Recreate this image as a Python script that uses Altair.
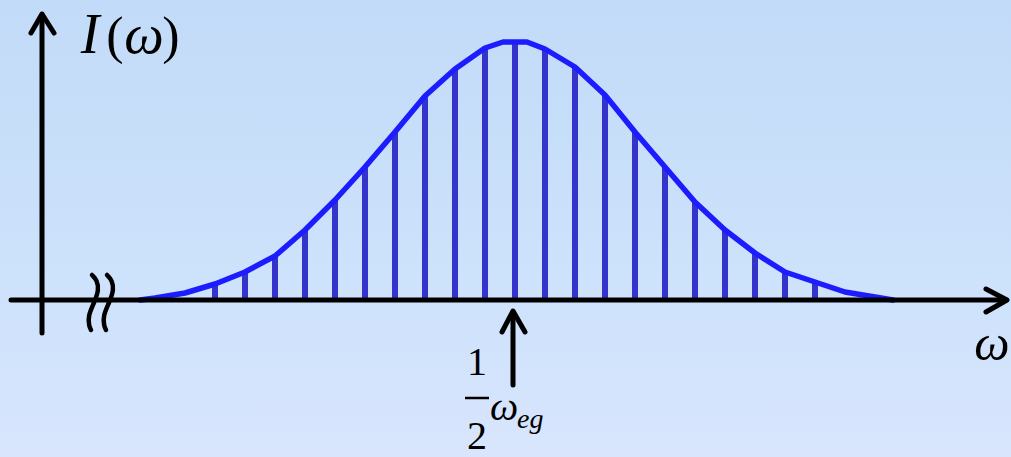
import altair as alt
import pandas as pd

W, H = 1011, 457

# Discrete lines under the envelope: position in units of the line spacing
# (0 = omega_eg / 2) and height of each line.
stem_k = list(range(-10, 11))
stem_h = [16, 28, 44, 70, 100, 133, 168, 204, 231, 252, 258,
          251, 233, 205, 168, 133, 98, 70, 47, 28, 18]

# Smooth envelope I(omega)
curve_k = [-12.5, -12, -11, -10, -9, -8, -7, -6, -5, -4, -3, -2, -1, -0.4,
           0.4, 1, 2, 3, 4, 5, 6, 7, 8, 9, 10, 11, 12, 12.6]
curve_h = [0, 2, 7, 16, 28, 44, 70, 100, 133, 168, 204, 231, 252, 258,
           258, 251, 233, 205, 168, 133, 98, 70, 47, 28, 18, 8, 3, 0]

# Scales: one unit of k is one line spacing, h is the intensity
xs = alt.Scale(domain=[-17.1667, 16.5333], nice=False, zero=False)
ys = alt.Scale(domain=[-157, 300], nice=False, zero=False)

STEM = "#3434cc"
CURVE = "#1c1cff"
INK = "#000000"
SERIF = "Liberation Serif, DejaVu Serif, serif"

bg = alt.Chart(pd.DataFrame({"a": [0]})).mark_rect(
    color=alt.Gradient(
        gradient="linear",
        stops=[alt.GradientStop(color="#c2dbf8", offset=0),
               alt.GradientStop(color="#cde2fb", offset=0.6),
               alt.GradientStop(color="#d8e5fd", offset=1)],
        x1=0, x2=0, y1=0, y2=1,
    )
).encode(x=alt.value(0), x2=alt.value(W), y=alt.value(0), y2=alt.value(H))

stems_df = pd.DataFrame({"k": stem_k, "h": stem_h, "h0": [0] * len(stem_k)})
stems = alt.Chart(stems_df).mark_rule(color=STEM, strokeWidth=6).encode(
    x=alt.X("k:Q", scale=xs, axis=None),
    y=alt.Y("h0:Q", scale=ys, axis=None),
    y2="h:Q",
)

curve_df = pd.DataFrame({"k": curve_k, "h": curve_h, "o": range(len(curve_k))})
curve = alt.Chart(curve_df).mark_line(
    color=CURVE, strokeWidth=5.5, strokeJoin="round", strokeCap="round"
).encode(
    x=alt.X("k:Q", scale=xs, axis=None),
    y=alt.Y("h:Q", scale=ys, axis=None),
    order="o:O",
)

# Axes, arrows and the break mark, drawn in pixel space
segments = {
    "xaxis": [(11, 300), (1006, 300)],
    "xhead": [(986, 289), (1007, 300), (986, 312)],
    "yaxis": [(42, 333), (42, 15)],
    "yhead": [(31, 33), (42, 14), (54, 33)],
    "mshaft": [(513, 385), (513, 312)],
    "mhead": [(502, 332), (513, 311), (525, 332)],
}
rows = []
for name, pts in segments.items():
    for i, (px, py) in enumerate(pts):
        rows.append({"seg": name, "px": px, "py": py, "o": i})
lines = alt.Chart(pd.DataFrame(rows)).mark_line(
    color=INK, strokeWidth=5, strokeCap="round", strokeJoin="round"
).encode(
    x=alt.X("px:Q", scale=None),
    y=alt.Y("py:Q", scale=None),
    detail="seg:N",
    order="o:O",
)

squiggle = [(92, 275), (97, 280), (99, 290), (94, 303), (88, 316), (89, 326), (91, 330)]
wrows = []
for j, dx in enumerate([0, 15]):
    for i, (px, py) in enumerate(squiggle):
        wrows.append({"seg": f"w{j}", "px": px + dx, "py": py, "o": i})
waves = alt.Chart(pd.DataFrame(wrows)).mark_line(
    color=INK, strokeWidth=4.5, strokeCap="round", interpolate="basis"
).encode(
    x=alt.X("px:Q", scale=None),
    y=alt.Y("py:Q", scale=None),
    detail="seg:N",
    order="o:O",
)

frac = alt.Chart(pd.DataFrame({"a": [0]})).mark_rule(color=INK, strokeWidth=2.5).encode(
    x=alt.value(465), x2=alt.value(489), y=alt.value(398)
)

labels = [
    # text, x, y, size, style
    ("I", 90, 53, 56, "italic"),
    ("(", 115, 53, 52, "normal"),
    ("ω", 144, 53, 56, "italic"),
    (")", 171, 53, 52, "normal"),
    ("ω", 992, 360, 50, "italic"),
    ("1", 477, 375, 40, "normal"),
    ("2", 477, 449, 40, "normal"),
    ("ω", 504, 420, 40, "italic"),
]
texts = []
for t, px, py, size, style in labels:
    texts.append(
        alt.Chart(pd.DataFrame({"t": [t]})).mark_text(
            font=SERIF, fontSize=size, fontStyle=style, color=INK,
            align="center", baseline="alphabetic",
        ).encode(x=alt.value(px), y=alt.value(py), text="t:N")
    )
texts.append(
    alt.Chart(pd.DataFrame({"t": ["eg"]})).mark_text(
        font=SERIF, fontSize=28, fontStyle="italic", color=INK,
        align="left", baseline="alphabetic",
    ).encode(x=alt.value(517), y=alt.value(428), text="t:N")
)

chart = alt.layer(bg, stems, curve, lines, waves, frac, *texts).properties(
    width=W, height=H,
    autosize=alt.AutoSizeParams(type="none"),
    padding=0,
).configure_view(stroke=None).configure(background="#c8defa")

chart.save("out.html", embed_options={"renderer": "svg", "actions": False})
